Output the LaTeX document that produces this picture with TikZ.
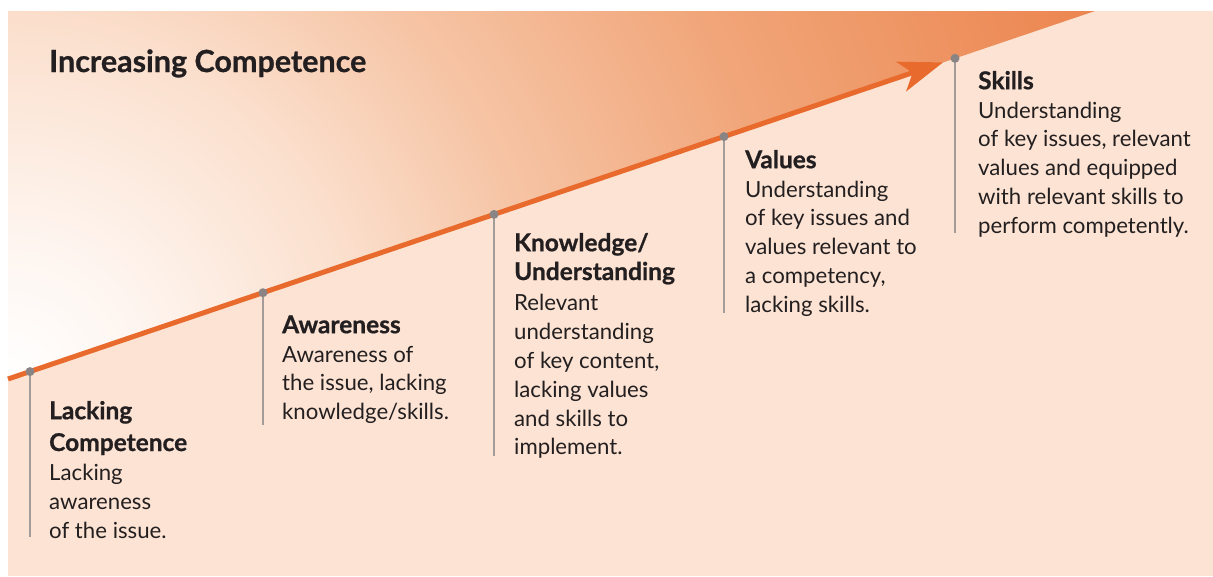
\documentclass[tikz,border=0pt]{standalone}
\usepackage{fontspec}
\setmainfont{Lato}
\usetikzlibrary{arrows.meta}
\definecolor{bgpeach}{HTML}{FCE3D3}
\definecolor{glow0}{HTML}{FFFFFF}
\definecolor{glow1}{HTML}{FEF4EE}
\definecolor{glow2}{HTML}{FBE0CE}
\definecolor{glow3}{HTML}{F6C5A6}
\definecolor{glow4}{HTML}{F1A67A}
\definecolor{glow5}{HTML}{EC8650}
\definecolor{lineorange}{HTML}{E96A2D}
\definecolor{dotgray}{HTML}{8A8584}
\definecolor{stemgray}{HTML}{A39C9A}
\definecolor{ink}{HTML}{231F20}
% warm glow spreading out from the low end of the rising line
\pgfdeclareradialshading{glow}{\pgfpoint{0bp}{0bp}}{color(0bp)=(glow0);
  color(3.3bp)=(glow1); color(7.7bp)=(glow2); color(11.6bp)=(glow3);
  color(17.1bp)=(glow4); color(25bp)=(glow5); color(50bp)=(glow5)}
\newcommand\heavy{\bfseries\addfontfeature{FakeBold=0.8}}
\newcommand\stagehead[1]{{\fontsize{24.5}{29}\selectfont\heavy #1}}
\newcommand\firstline{\rule{0pt}{22pt}}
\begin{document}
\begin{tikzpicture}[x=1pt,y=-1pt,
  stage/.style={anchor=north west, align=left, inner sep=0pt,
    font=\fontsize{22.2}{28.8}\selectfont, text=ink},
  headline/.style={anchor=base west, inner sep=0pt,
    font=\fontsize{30.5}{36}\selectfont\heavy, text=ink},
  dot/.style={circle, fill=dotgray, inner sep=0pt, minimum size=9pt},
  stem/.style={draw=stemgray, line width=1.3pt},
  rise/.style={draw=lineorange, line width=5pt,
    -{Stealth[length=44pt,width=31pt,inset=12pt]}}
]
\useasboundingbox (0,0) rectangle (1213,576);
% panel
\fill[bgpeach] (8,11) rectangle (1213,576);

% points along the rising line
\coordinate (start) at (8,379);
\coordinate (apex) at (1095,11);
\coordinate (corner) at (8,11);
\coordinate (tip) at (943,62.4);
\coordinate (p1) at (30,371.6);
\coordinate (p2) at (263,292.7);
\coordinate (p3) at (494,214.4);
\coordinate (p4) at (724,136.6);
\coordinate (p5) at (955,58.3);
\coordinate (e1) at (30,537);
\coordinate (e2) at (263,425);
\coordinate (e3) at (494,456);
\coordinate (e4) at (724,313);
\coordinate (e5) at (955,233);

% shaded wedge above the line
\begin{scope}
  \clip (start) -- (apex) -- (corner) -- cycle;
  \shade[shading=glow] (-1132,-761) rectangle (1148,1519);
\end{scope}

\draw[stem] (p1) -- (e1);
\draw[stem] (p2) -- (e2);
\draw[stem] (p3) -- (e3);
\draw[stem] (p4) -- (e4);
\draw[stem] (p5) -- (e5);

\draw[rise] (start) -- (tip);

\node[dot] (d1) at (p1) {};
\node[dot] (d2) at (p2) {};
\node[dot] (d3) at (p3) {};
\node[dot] (d4) at (p4) {};
\node[dot] (d5) at (p5) {};

\node[headline] (title) at (49,72) {Increasing Competence};

\node[stage] (s1) at (49,397) {\firstline\stagehead{Lacking}\\[3pt]\stagehead{Competence}\\[1pt]Lacking\\awareness\\of the issue.};
\node[stage] (s2) at (282,311) {\firstline\stagehead{Awareness}\\Awareness of\\the issue, lacking\\knowledge/skills.};
\node[stage] (s3) at (514,229) {\firstline\stagehead{Knowledge/}\\\stagehead{Understanding}\\[2pt]Relevant\\understanding\\of key content,\\lacking values\\and skills to\\implement.};
\node[stage] (s4) at (745,146) {\firstline\stagehead{Values}\\Understanding\\of key issues and\\values relevant to\\a competency,\\lacking skills.};
\node[stage] (s5) at (978,67) {\firstline\stagehead{Skills}\\Understanding\\of key issues, relevant\\values and equipped\\with relevant skills to\\perform competently.};
\end{tikzpicture}
\end{document}
